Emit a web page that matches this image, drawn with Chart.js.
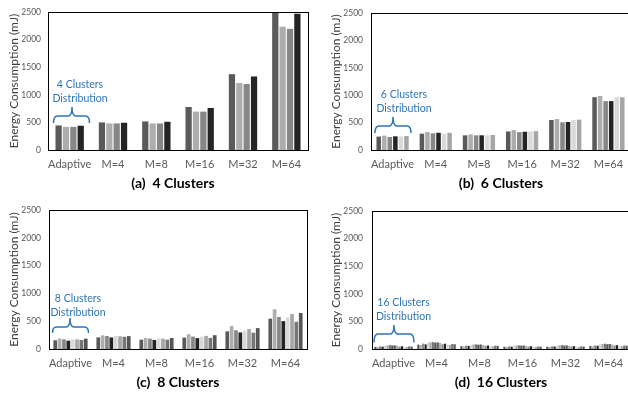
<!DOCTYPE html>
<html>
<head>
<meta charset="utf-8">
<script src="https://cdn.jsdelivr.net/npm/chart.js@4.4.1/dist/chart.umd.min.js"></script>
<style>
  html,body{margin:0;padding:0;background:#fff}
  #wrap{position:relative;width:628px;height:394px;overflow:hidden;background:#fff}
  .panel{position:absolute}
</style>
</head>
<body>
<div id="wrap">
  <div class="panel" style="left:0;top:0"><canvas id="p4" width="314" height="197"></canvas></div>
  <div class="panel" style="left:314px;top:0"><canvas id="p6" width="322" height="197"></canvas></div>
  <div class="panel" style="left:0;top:197px"><canvas id="p8" width="314" height="197"></canvas></div>
  <div class="panel" style="left:314px;top:197px"><canvas id="p16" width="322" height="197"></canvas></div>
</div>
<script>
const CATS = ['Adaptive','M=4','M=8','M=16','M=32','M=64']
const Y_MAX = 2500, Y_STEP = 500

// energy (mJ) per category row, one value per cluster
const E4 = [
  [445, 420, 420, 440],
  [500, 482, 482, 494],
  [518, 482, 482, 512],
  [780, 696, 696, 762],
  [1375, 1214, 1196, 1333],
  [2540, 2237, 2196, 2470]
]
const E6 = [
  [245, 262, 238, 250, 248, 255],
  [298, 327, 305, 315, 298, 315],
  [268, 285, 268, 268, 268, 274],
  [339, 363, 327, 333, 339, 345],
  [548, 565, 506, 512, 548, 554],
  [964, 988, 893, 893, 964, 964]
]
const E8 = [
  [158, 188, 174, 150, 174, 174, 162, 186],
  [210, 246, 234, 208, 234, 230, 220, 232],
  [168, 198, 186, 162, 190, 186, 168, 198],
  [206, 266, 224, 196, 222, 236, 200, 248],
  [318, 412, 336, 298, 330, 360, 294, 376],
  [546, 714, 576, 502, 570, 630, 490, 648]
]
const E16 = [
  [40, 34, 50, 42, 62, 66, 70, 64, 68, 60, 44, 50, 40, 36, 48, 44],
  [80, 70, 98, 84, 118, 122, 126, 116, 120, 110, 86, 96, 80, 74, 92, 86],
  [52, 44, 62, 54, 76, 80, 84, 78, 82, 72, 56, 64, 52, 48, 60, 56],
  [40, 34, 48, 42, 60, 64, 66, 60, 64, 56, 44, 50, 40, 36, 46, 42],
  [42, 36, 50, 44, 62, 66, 70, 62, 66, 58, 46, 52, 42, 38, 48, 44],
  [54, 46, 66, 58, 84, 90, 96, 86, 92, 80, 62, 70, 56, 50, 64, 60]
]

const GRAYS = ['#5a5a5a','#adadad','#878787','#242424','#d9d9d9','#a6a6a6','#767676','#555555']
const BLUE = '#2e75b6'
const FONT = 'Lato, "Open Sans", sans-serif'

Chart.defaults.font.family = FONT

// frame, brace, blue note and caption on top of the bars
const decor = {
  id:'decor',
  afterDraw(chart, args, o) {
    const {ctx, chartArea:a} = chart
    ctx.save()
    ctx.strokeStyle = '#000'
    ctx.lineWidth = 1
    const l = Math.floor(a.left)+0.5, t = Math.floor(a.top)+0.5
    const r = Math.floor(a.right)+0.5, b = Math.floor(a.bottom)+0.5
    ctx.strokeRect(l, t, r-l, b-t)

    const {x1, x2, xm, tip, mid, end} = o.brace
    ctx.strokeStyle = BLUE
    ctx.lineWidth = 1.5
    ctx.beginPath()
    ctx.moveTo(x1, end)
    ctx.quadraticCurveTo(x1, mid, x1+4, mid)
    ctx.lineTo(xm-4, mid)
    ctx.quadraticCurveTo(xm, mid, xm, tip)
    ctx.quadraticCurveTo(xm, mid, xm+4, mid)
    ctx.lineTo(x2-4, mid)
    ctx.quadraticCurveTo(x2, mid, x2, end)
    ctx.stroke()

    ctx.fillStyle = BLUE
    ctx.font = '10.5px ' + FONT
    ctx.textAlign = 'center'
    ctx.textBaseline = 'middle'
    o.note.forEach((s, i) => ctx.fillText(s, o.noteX, o.noteY[i]))

    ctx.fillStyle = '#000'
    ctx.font = 'bold 14px ' + FONT
    ctx.fillText(o.caption, o.capX, o.capY)
    ctx.restore()
  }
}

function panel(id, rows, p) {
  const n = rows[0].length
  const datasets = []
  for (let k = 0; k < n; k++) {
    datasets.push({
      data: rows.map(r => r[k]),
      backgroundColor: GRAYS[k % GRAYS.length],
      categoryPercentage: p.cat,
      barPercentage: p.bar
    })
  }
  new Chart(document.getElementById(id), {
    type:'bar',
    data:{labels:CATS, datasets},
    plugins:[decor],
    options:{
      responsive:false, animation:false, devicePixelRatio:1,
      layout:{padding:{top:p.top, right:p.right, left:0, bottom:0}},
      plugins:{
        legend:{display:false}, tooltip:{enabled:false},
        decor:{caption:p.caption, capX:p.capX, capY:p.capY, note:p.note, noteX:p.noteX, noteY:p.noteY, brace:p.brace}
      },
      scales:{
        x:{
          grid:{display:false, drawTicks:false}, border:{display:false},
          ticks:{color:'#595959', font:{size:11}, padding:8, maxRotation:0, autoSkip:false},
          afterFit(s){ s.height = p.xh }
        },
        y:{
          min:0, max:Y_MAX,
          grid:{display:false, drawTicks:false}, border:{display:false},
          ticks:{stepSize:Y_STEP, color:'#595959', font:{size:8.5}, padding:p.tickPad, callback:v => String(v)},
          title:{display:true, text:'Energy Consumption (mJ)', color:'#404040', font:{size:12}, padding:{top:p.titlePad, bottom:0}},
          afterFit(s){ s.width = p.yw }
        }
      }
    }
  })
}

panel('p4', E4, {
  top:10, right:6, yw:48, xh:47, tickPad:7, titlePad:7, cat:0.68, bar:0.85,
  caption:'(a)  4 Clusters', capX:173, capY:183,
  note:['4 Clusters','Distribution'], noteX:80, noteY:[85,99],
  brace:{x1:53.5, x2:89.5, xm:72, tip:107, mid:116, end:123}
})
panel('p6', E6, {
  top:10, right:6, yw:57, xh:47, tickPad:8, titlePad:14.5, cat:0.77, bar:0.82,
  caption:'(b)  6 Clusters', capX:187, capY:183,
  note:['6 Clusters','Distribution'], noteX:90, noteY:[95,109],
  brace:{x1:61, x2:97, xm:79, tip:117, mid:126, end:133}
})
panel('p8', E8, {
  top:13, right:7, yw:49, xh:45, tickPad:8, titlePad:7, cat:0.81, bar:0.85,
  caption:'(c)  8 Clusters', capX:178, capY:185,
  note:['8 Clusters','Distribution'], noteX:78, noteY:[102,116],
  brace:{x1:52.5, x2:88.5, xm:70, tip:121, mid:130, end:136}
})
panel('p16', E16, {
  top:13, right:6, yw:58, xh:45, tickPad:9, titlePad:14.5, cat:0.9, bar:0.9,
  caption:'(d)  16 Clusters', capX:187, capY:185,
  note:['16 Clusters','Distribution'], noteX:89.5, noteY:[106,120],
  brace:{x1:60, x2:100, xm:80, tip:128, mid:137, end:145.5}
})
</script>
</body>
</html>
